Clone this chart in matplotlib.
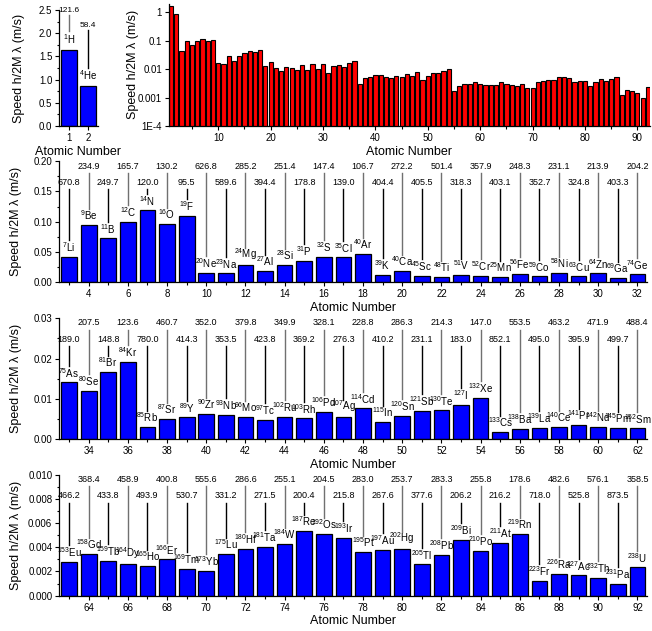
import matplotlib
matplotlib.use('Agg')
import matplotlib.pyplot as plt
from matplotlib.ticker import MultipleLocator, FixedLocator, FixedFormatter, NullLocator

plt.rcParams['font.family'] = ['Liberation Sans', 'DejaVu Sans']
plt.rcParams['mathtext.fontset'] = 'custom'
plt.rcParams['mathtext.rm'] = 'Liberation Sans'
plt.rcParams['mathtext.it'] = 'Liberation Sans:italic'
plt.rcParams['mathtext.bf'] = 'Liberation Sans:bold'

# element data, Z = 1..92
symbols = ['H', 'He', 'Li', 'Be', 'B', 'C', 'N', 'O', 'F', 'Ne', 'Na', 'Mg', 'Al', 'Si', 'P', 'S',
           'Cl', 'Ar', 'K', 'Ca', 'Sc', 'Ti', 'V', 'Cr', 'Mn', 'Fe', 'Co', 'Ni', 'Cu', 'Zn', 'Ga', 'Ge',
           'As', 'Se', 'Br', 'Kr', 'Rb', 'Sr', 'Y', 'Zr', 'Nb', 'Mo', 'Tc', 'Ru', 'Rh', 'Pd', 'Ag', 'Cd',
           'In', 'Sn', 'Sb', 'Te', 'I', 'Xe', 'Cs', 'Ba', 'La', 'Ce', 'Pr', 'Nd', 'Pm', 'Sm',
           'Eu', 'Gd', 'Tb', 'Dy', 'Ho', 'Er', 'Tm', 'Yb', 'Lu', 'Hf', 'Ta', 'W', 'Re', 'Os', 'Ir', 'Pt',
           'Au', 'Hg', 'Tl', 'Pb', 'Bi', 'Po', 'At', 'Rn', 'Fr', 'Ra', 'Ac', 'Th', 'Pa', 'U']
mass = [1, 4, 7, 9, 11, 12, 14, 16, 19, 20, 23, 24, 27, 28, 31, 32,
        35, 40, 39, 40, 45, 48, 51, 52, 25, 56, 59, 58, 63, 64, 69, 74,
        75, 80, 81, 84, 85, 87, 89, 90, 93, 96, 97, 102, 103, 106, 107, 114,
        115, 120, 121, 130, 127, 132, 133, 138, 139, 140, 141, 142, 145, 152,
        153, 158, 159, 164, 165, 166, 169, 173, 175, 180, 181, 184, 187, 192, 193, 195,
        197, 202, 205, 208, 209, 210, 211, 219, 223, 226, 227, 232, 231, 238]
wavelength = [121.6, 58.4, 670.8, 234.9, 249.7, 165.7, 120.0, 130.2, 95.5, 626.8, 589.6, 285.2,
              394.4, 251.4, 178.8, 147.4, 139.0, 106.7, 404.4, 272.2, 405.5, 501.4, 318.3, 357.9,
              403.1, 248.3, 352.7, 231.1, 324.8, 213.9, 403.3, 204.2,
              189.0, 207.5, 148.8, 123.6, 780.0, 460.7, 414.3, 352.0, 353.5, 379.8, 423.8, 349.9,
              369.2, 328.1, 276.3, 228.8, 410.2, 286.3, 231.1, 214.3, 183.0, 147.0, 852.1, 553.5,
              495.0, 463.2, 395.9, 471.9, 499.7, 488.4,
              466.2, 368.4, 433.8, 458.9, 493.9, 400.8, 530.7, 555.6, 331.2, 286.6, 271.5, 255.1,
              200.4, 204.5, 215.8, 283.0, 267.6, 253.7, 377.6, 283.3, 206.2, 255.8, 216.2, 178.6,
              718.0, 482.6, 525.8, 576.1, 873.5, 358.5]
speed = [1.64, 0.854, 0.0425, 0.0944, 0.0726, 0.1003, 0.1188, 0.0958, 0.110, 0.0159, 0.0147, 0.0291,
         0.0187, 0.0283, 0.0360, 0.0423, 0.0410, 0.0467, 0.0126, 0.0183, 0.0109, 0.0083, 0.0123, 0.0107,
         0.0090, 0.0143, 0.0096, 0.0149, 0.0098, 0.0146, 0.0072, 0.0132,
         0.0141, 0.0120, 0.0166, 0.0192, 0.0030, 0.0050, 0.0054, 0.0063, 0.0061, 0.0055, 0.0049, 0.0056,
         0.0052, 0.0068, 0.0056, 0.00765, 0.00423, 0.00581, 0.00713, 0.00716, 0.00858, 0.01028, 0.00176,
         0.00261, 0.00290, 0.00308, 0.00357, 0.00298, 0.00275, 0.00269,
         0.00280, 0.00343, 0.00289, 0.00265, 0.00245, 0.00300, 0.00222, 0.00208, 0.00344, 0.00387,
         0.00406, 0.00425, 0.00532, 0.00508, 0.00479, 0.00362, 0.00379, 0.00389, 0.00258, 0.00339,
         0.00463, 0.00371, 0.00437, 0.00510, 0.00125, 0.00183, 0.00167, 0.00149, 0.00099, 0.00234]
Z = list(range(1, 93))

ylab = 'Speed h/2M \u03bb (m/s)'
xlab = 'Atomic Number'

fig = plt.figure(figsize=(6.52, 6.31), dpi=100)


def style(ax):
    ax.spines['top'].set_visible(False)
    ax.spines['right'].set_visible(False)
    for s in ['left', 'bottom']:
        ax.spines[s].set_linewidth(0.9)
    ax.tick_params(which='both', direction='out', labelsize=7, pad=2, width=0.8)
    ax.tick_params(which='major', length=3)
    ax.tick_params(which='minor', length=1.8)
    ax.set_xlabel(xlab, fontsize=9, labelpad=2)


def annotate(ax, lo, hi, ymax, txt_up, txt_lo, line_up, line_lo, lab_off, line_off,
             first_up=False, wl_size=6.5):
    for i, k in enumerate(range(lo - 1, hi)):
        z, v = Z[k], speed[k]
        upper = (i % 2 == 1) != first_up
        ax.text(z, (txt_up if upper else txt_lo) * ymax, f'{wavelength[k]:.1f}',
                ha='center', va='center', fontsize=wl_size)
        ax.plot([z, z], [v + line_off * ymax, (line_up if upper else line_lo) * ymax],
                color='#707070' if upper else 'black', lw=1.0, clip_on=False)
        ax.text(z, v + lab_off * ymax, rf'$^{{{mass[k]}}}$' + symbols[k],
                ha='center', va='bottom', fontsize=7)


# top-left: H and He
ax0 = fig.add_axes([0.091, 0.8003, 0.0586, 0.1838])
ax0.bar(Z[:2], speed[:2], width=0.84, color='#0000ff', edgecolor='black', linewidth=0.9)
ax0.set_xlim(0.5, 2.5)
ax0.set_ylim(0, 2.5)
ax0.xaxis.set_major_locator(FixedLocator([1, 2]))
ax0.yaxis.set_major_locator(MultipleLocator(0.5))
ax0.yaxis.set_minor_locator(MultipleLocator(0.25))
ax0.yaxis.set_major_formatter(plt.FormatStrFormatter('%.1f'))
style(ax0)
ax0.set_ylabel(ylab, fontsize=9)
ax0.yaxis.set_label_coords(-0.89, 0.5)
annotate(ax0, 1, 2, 2.5, 1.0, 0.87, 0.96, 0.83, 0.035, 0.16, first_up=True, wl_size=6)

# top-right: all elements, log scale
ax1 = fig.add_axes([0.2592, 0.8003, 0.7377, 0.1938])
ax1.set_yscale('log')
ax1.bar(Z, speed, width=0.8, bottom=1e-5, color='#ff0000', edgecolor='black', linewidth=0.8)
ax1.set_xlim(0.6, 92.4)
ax1.set_ylim(1e-4, 2)
ax1.xaxis.set_major_locator(MultipleLocator(10))
ax1.xaxis.set_minor_locator(MultipleLocator(5))
ax1.yaxis.set_major_locator(FixedLocator([1e-4, 1e-3, 1e-2, 1e-1, 1]))
ax1.yaxis.set_major_formatter(FixedFormatter(['1E-4', '0.001', '0.01', '0.1', '1']))
ax1.yaxis.set_minor_locator(NullLocator())
style(ax1)
ax1.set_ylabel(ylab, fontsize=9)
ax1.yaxis.set_label_coords(-0.063, 0.5)

# three rows of elements
rows = [(3, 32, 0.20, 0.05, '%.2f', 0.5526),
        (33, 62, 0.03, 0.01, '%.2f', 0.3038),
        (63, 92, 0.010, 0.002, '%.3f', 0.0559)]
for lo, hi, ymax, step, fmt, bottom in rows:
    ax = fig.add_axes([0.0909, bottom, 0.9018, 0.192])
    ax.bar(Z[lo - 1:hi], speed[lo - 1:hi], width=0.8, color='#0000ff',
           edgecolor='black', linewidth=0.9)
    ax.set_xlim(lo - 0.5, hi + 0.5)
    ax.set_ylim(0, ymax)
    ax.xaxis.set_major_locator(MultipleLocator(2))
    ax.xaxis.set_minor_locator(MultipleLocator(1))
    ax.yaxis.set_major_locator(MultipleLocator(step))
    ax.yaxis.set_minor_locator(MultipleLocator(step / 2))
    ax.yaxis.set_major_formatter(plt.FormatStrFormatter(fmt))
    style(ax)
    ax.set_ylabel(ylab, fontsize=9)
    ax.yaxis.set_label_coords(-0.0634, 0.5)
    annotate(ax, lo, hi, ymax, 0.96, 0.825, 0.905, 0.767, 0.023, 0.135)

fig.savefig('out.png', dpi=100)
